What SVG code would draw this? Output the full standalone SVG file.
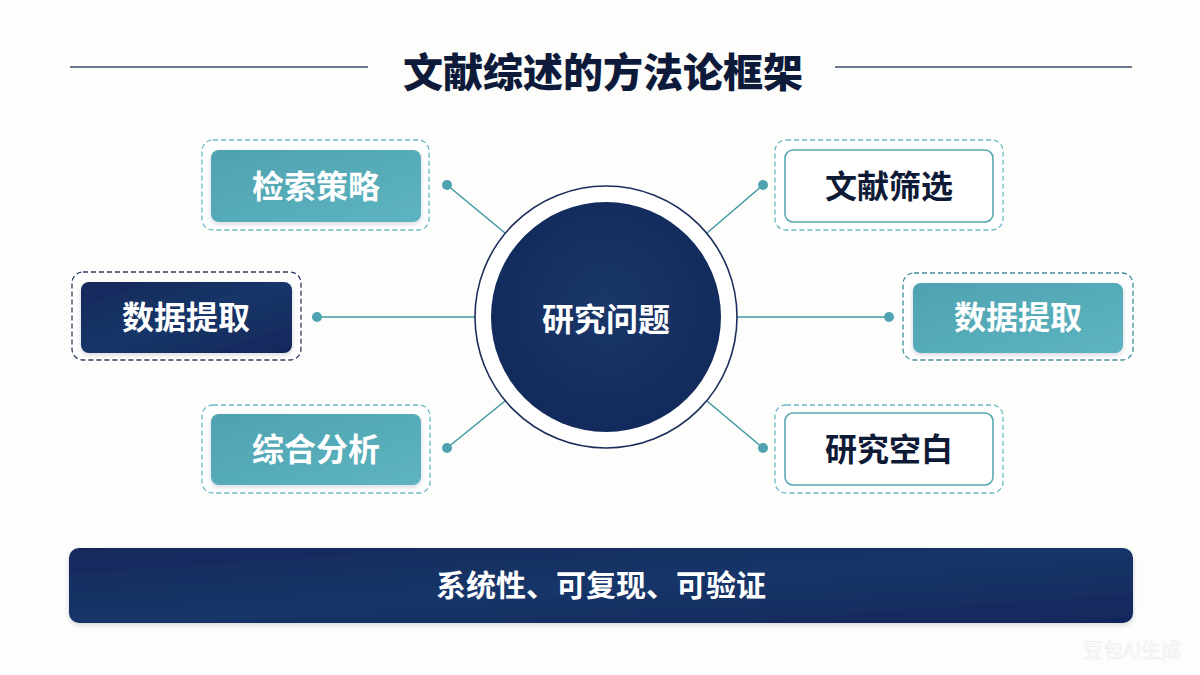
<svg xmlns="http://www.w3.org/2000/svg" width="1200" height="675" viewBox="0 0 1200 675">
  <defs>
    <linearGradient id="tealGrad" x1="0" y1="0" x2="1" y2="1">
      <stop offset="0" stop-color="#4fa2b0"/>
      <stop offset="1" stop-color="#5db4c0"/>
    </linearGradient>
    <linearGradient id="navyGrad" x1="0" y1="0" x2="1" y2="1">
      <stop offset="0" stop-color="#12285b"/>
      <stop offset="0.5" stop-color="#183568"/>
      <stop offset="1" stop-color="#11275b"/>
    </linearGradient>
    <radialGradient id="circleGrad" cx="0.5" cy="0.45" r="0.55">
      <stop offset="0" stop-color="#1a3768"/>
      <stop offset="1" stop-color="#122a5c"/>
    </radialGradient>
    <filter id="shadow" x="-10%" y="-10%" width="120%" height="130%">
      <feDropShadow dx="0" dy="2" stdDeviation="2" flood-color="#1b2b4a" flood-opacity="0.18"/>
    </filter>
  </defs>
  <style>
    .cjk { font-family: "Noto Sans CJK SC", "Noto Sans", sans-serif; font-weight: 700; text-anchor: middle; }
    .title { font-size: 40px; fill: #0d1a3a; font-weight: 900; }
    .lbl { font-size: 32px; }
    .light { fill: #ffffff; }
    .dark { fill: #0f1a36; }
    .rule { stroke: #3a4a68; stroke-width: 1.6; }
    .dashTeal { fill: #ffffff; stroke: #6cb9c3; stroke-width: 1.3; stroke-dasharray: 5 3; }
    .dashNavy { fill: #ffffff; stroke: #2d3d5e; stroke-width: 1.3; stroke-dasharray: 5 3; }
    .dashTealDark { fill: #ffffff; stroke: #3f8f9b; stroke-width: 1.3; stroke-dasharray: 5 3; }
    .fillTeal { fill: url(#tealGrad); }
    .fillNavy { fill: url(#navyGrad); }
    .outlineTeal { fill: #ffffff; stroke: #5aa8b2; stroke-width: 1.6; }
    .conn { stroke: #3f98a3; stroke-width: 1.5; fill: none; }
    .dot { fill: #4fa3b0; }
  </style>

  <rect x="0" y="0" width="1200" height="675" fill="#fdfdfb"/>

  <g id="title">
    <line class="rule" x1="70" y1="67" x2="368" y2="67"/>
    <line class="rule" x1="835" y1="67" x2="1132" y2="67"/>
    <text class="cjk title" x="603" y="87">文献综述的方法论框架</text>
  </g>

  <g id="connectors">
    <line class="conn" x1="447" y1="185" x2="505" y2="233"/>
    <circle class="dot" cx="447" cy="185" r="5"/>
    <line class="conn" x1="317" y1="317" x2="475" y2="317"/>
    <circle class="dot" cx="317" cy="317" r="5"/>
    <line class="conn" x1="447" y1="448" x2="505" y2="401"/>
    <circle class="dot" cx="447" cy="448" r="5"/>
    <line class="conn" x1="763" y1="185" x2="707" y2="233"/>
    <circle class="dot" cx="763" cy="185" r="5"/>
    <line class="conn" x1="737" y1="317" x2="889" y2="317"/>
    <circle class="dot" cx="889" cy="317" r="5"/>
    <line class="conn" x1="763" y1="448" x2="707" y2="401"/>
    <circle class="dot" cx="763" cy="448" r="5"/>
  </g>

  <g id="center">
    <circle cx="606" cy="317" r="131" fill="#ffffff" stroke="#1b2d5a" stroke-width="1.6"/>
    <circle cx="606" cy="317" r="115" fill="url(#circleGrad)"/>
    <text class="cjk lbl light" x="606" y="331">研究问题</text>
  </g>

  <g id="node-search">
    <rect class="dashTeal" x="202" y="140" width="227" height="90" rx="11"/>
    <rect class="fillTeal" x="211" y="150" width="210" height="72" rx="8" filter="url(#shadow)"/>
    <text class="cjk lbl light" x="316" y="198">检索策略</text>
  </g>

  <g id="node-extract-left">
    <rect class="dashNavy" x="72" y="272" width="229" height="88" rx="11"/>
    <rect class="fillNavy" x="81" y="282" width="211" height="71" rx="8" filter="url(#shadow)"/>
    <text class="cjk lbl light" x="186" y="329">数据提取</text>
  </g>

  <g id="node-synthesis">
    <rect class="dashTeal" x="202" y="405" width="228" height="88" rx="11"/>
    <rect class="fillTeal" x="211" y="414" width="210" height="71" rx="8" filter="url(#shadow)"/>
    <text class="cjk lbl light" x="316" y="461">综合分析</text>
  </g>

  <g id="node-screen">
    <rect class="dashTeal" x="775" y="140" width="228" height="90" rx="11"/>
    <rect class="outlineTeal" x="785" y="150" width="208" height="72" rx="8"/>
    <text class="cjk lbl dark" x="889" y="198">文献筛选</text>
  </g>

  <g id="node-extract-right">
    <rect class="dashTealDark" x="903" y="273" width="230" height="87" rx="11"/>
    <rect class="fillTeal" x="913" y="283" width="210" height="70" rx="8" filter="url(#shadow)"/>
    <text class="cjk lbl light" x="1018" y="329">数据提取</text>
  </g>

  <g id="node-gap">
    <rect class="dashTeal" x="775" y="405" width="228" height="88" rx="11"/>
    <rect class="outlineTeal" x="785" y="413" width="208" height="72" rx="8"/>
    <text class="cjk lbl dark" x="889" y="461">研究空白</text>
  </g>

  <g id="footer-bar">
    <rect class="fillNavy" x="69" y="548" width="1064" height="75" rx="10" filter="url(#shadow)"/>
    <text class="cjk light" x="601" y="596" font-size="30">系统性、可复现、可验证</text>
  </g>

  <g id="watermark">
    <text x="1132" y="658" font-family="Noto Sans CJK SC, sans-serif" font-size="20" text-anchor="middle" fill="#ffffff" stroke="#ededed" stroke-width="0.7">豆包AI生成</text>
  </g>
</svg>
